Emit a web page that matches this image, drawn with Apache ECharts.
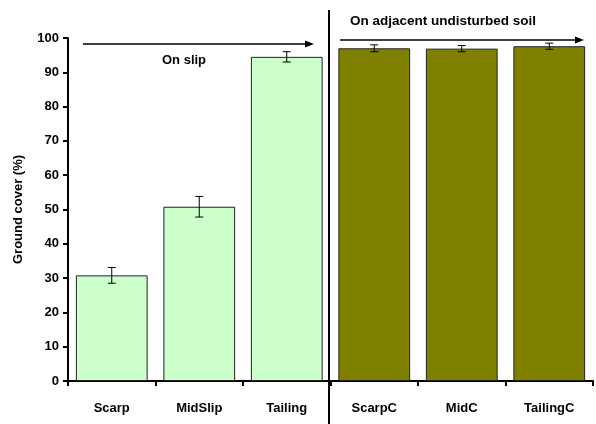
<!DOCTYPE html>
<html>
<head>
  <meta charset="utf-8" />
  <title>Ground cover</title>
  <style>
    html, body { margin: 0; padding: 0; background: #fff; }
    #chart { width: 596px; height: 424px; }
  </style>
</head>
<body>
  <div id="chart"></div>
  <script src="https://cdn.jsdelivr.net/npm/echarts@6/dist/echarts.min.js"></script>
  <script>
    var categories = ['Scarp', 'MidSlip', 'Tailing', 'ScarpC', 'MidC', 'TailingC'];
    var coverValues = [30.8, 50.8, 94.5, 97.0, 96.9, 97.6];
    var errValues = [2.3, 3.0, 1.5, 1.0, 0.9, 0.9];
    var barColors = ['#ccffcc', '#ccffcc', '#ccffcc', '#808000', '#808000', '#808000'];
    var yTicks = [0, 10, 20, 30, 40, 50, 60, 70, 80, 90, 100];

    var _font = 'Liberation Sans, Arial, sans-serif';
    var myChart = echarts.init(document.getElementById('chart'));

    var barData = [];
    var errData = [];
    for (var i = 0; i < categories.length; i++) {
      barData.push({
        value: coverValues[i],
        itemStyle: { color: barColors[i], borderColor: '#222', borderWidth: 1 }
      });
      errData.push([i, coverValues[i] - errValues[i], coverValues[i] + errValues[i]]);
    }

    var option = {
      animation: false,
      grid: { left: 68, right: 3, top: 38, bottom: 43 },
      xAxis: {
        type: 'category',
        data: categories,
        axisLine: { lineStyle: { color: '#000', width: 2 } },
        axisTick: { show: true, length: 5, lineStyle: { color: '#000', width: 2 } },
        axisLabel: { color: '#000', fontWeight: 'bold', fontSize: 13, fontFamily: _font, margin: 21 }
      },
      yAxis: {
        type: 'value',
        min: yTicks[0],
        max: yTicks[yTicks.length - 1],
        interval: 10,
        name: 'Ground cover (%)',
        nameLocation: 'middle',
        nameGap: 43,
        nameTextStyle: { color: '#000', fontWeight: 'bold', fontSize: 13, fontFamily: _font },
        axisLine: { show: true, lineStyle: { color: '#000', width: 2 } },
        axisTick: { show: true, length: 5, lineStyle: { color: '#000', width: 2 } },
        axisLabel: { color: '#000', fontWeight: 'bold', fontSize: 13, fontFamily: _font, margin: 9 },
        splitLine: { show: false }
      },
      series: [
        {
          type: 'bar',
          data: barData,
          barCategoryGap: '18%'
        },
        {
          type: 'custom',
          data: errData,
          z: 10,
          renderItem: function (params, api) {
            var x = api.value(0);
            var lo = api.coord([x, api.value(1)]);
            var hi = api.coord([x, api.value(2)]);
            var w = 4;
            var st = { stroke: '#000', lineWidth: 1 };
            return {
              type: 'group',
              children: [
                { type: 'line', shape: { x1: lo[0], y1: lo[1], x2: hi[0], y2: hi[1] }, style: st },
                { type: 'line', shape: { x1: lo[0] - w, y1: lo[1], x2: lo[0] + w, y2: lo[1] }, style: st },
                { type: 'line', shape: { x1: hi[0] - w, y1: hi[1], x2: hi[0] + w, y2: hi[1] }, style: st }
              ]
            };
          }
        }
      ],
      graphic: [
        // divider
        { type: 'line', shape: { x1: 329, y1: 10, x2: 329, y2: 424 }, style: { stroke: '#000', lineWidth: 2 } },
        // arrow on slip
        { type: 'line', shape: { x1: 83, y1: 44, x2: 310, y2: 44 }, style: { stroke: '#000', lineWidth: 1.5 } },
        { type: 'polygon', shape: { points: [[314, 44], [305, 40.5], [305, 47.5]] }, style: { fill: '#000' } },
        { type: 'text', left: 162, top: 54, style: { text: 'On slip', fill: '#000', font: 'bold 13px ' + _font } },
        // arrow adjacent
        { type: 'line', shape: { x1: 340, y1: 40, x2: 580, y2: 40 }, style: { stroke: '#000', lineWidth: 1.5 } },
        { type: 'polygon', shape: { points: [[584, 40], [575, 36.5], [575, 43.5]] }, style: { fill: '#000' } },
        { type: 'text', left: 350, top: 14, style: { text: 'On adjacent undisturbed soil', fill: '#000', font: 'bold 13.5px ' + _font } }
      ]
    };
    myChart.setOption(option);
  </script>
</body>
</html>
